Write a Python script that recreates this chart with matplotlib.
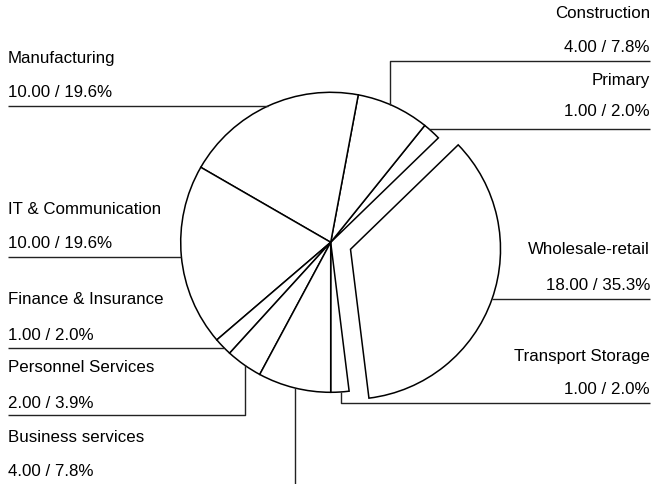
import matplotlib
matplotlib.use("Agg")
import matplotlib.pyplot as plt
import numpy as np

plt.rcParams["font.family"] = ["Liberation Sans", "DejaVu Sans"]

# sectors, counter-clockwise starting at the bottom
SECTORS = [
    "Transport Storage",
    "Wholesale-retail",
    "Primary",
    "Construction",
    "Manufacturing",
    "IT & Communication",
    "Finance & Insurance",
    "Personnel Services",
    "Business services",
]
VALUES = [1, 18, 1, 4, 10, 10, 1, 2, 4]
EXPLODE = [0, 0.14, 0, 0, 0, 0, 0, 0, 0]

W, H = 655, 485
CX, CY, R = 330.7, 243.3, 150.0  # pie centre / radius in pixels


def px(x):
    return (x - CX) / R


def py(y):
    return (CY - y) / R


def label_text(name):
    i = SECTORS.index(name)
    v = VALUES[i]
    pct = 100.0 * v / sum(VALUES)
    return f"{v:.2f} / {pct:.1f}%"


def circle_x(wedge, y, side):
    cx, cy = wedge.center
    r = wedge.r
    return cx + side * np.sqrt(r ** 2 - (y - cy) ** 2)


def circle_y(wedge, x, side):
    cx, cy = wedge.center
    r = wedge.r
    return cy + side * np.sqrt(r ** 2 - (x - cx) ** 2)


def main():
    fig = plt.figure(figsize=(W / 100, H / 100), dpi=100)
    ax = fig.add_axes([0, 0, 1, 1])

    wedges, _ = ax.pie(
        VALUES,
        explode=EXPLODE,
        startangle=-90,
        counterclock=True,
        colors=["white"] * len(VALUES),
        wedgeprops=dict(edgecolor="black", linewidth=1.1),
    )
    ax.set_xlim(px(0), px(W))
    ax.set_ylim(py(H), py(0))
    ax.set_aspect("equal")
    ax.axis("off")

    w = dict(zip(SECTORS, wedges))
    fs = 12.2
    lc = "#222222"
    lw = 1.0
    xl, xr = 8, 650

    # left side labels: (name, text y, value y, line y)
    left = [
        ("Manufacturing", 59, 93, 107),
        ("IT & Communication", 210, 244, 258),
        ("Finance & Insurance", 300, 336, 349),
        ("Personnel Services", 368, 403, 416),
        ("Business services", 437, 471, None),
    ]
    for name, ty, vy, ly in left:
        ax.text(px(xl), py(ty), name, fontsize=fs, ha="left", va="center")
        ax.text(px(xl), py(vy), label_text(name), fontsize=fs,
                ha="left", va="center")

    # right side labels
    right = [
        ("Construction", 14, 48, 62),
        ("Primary", 81, 112, 130),
        ("Wholesale-retail", 250, 285, 300),
        ("Transport Storage", 357, 390, 404),
    ]
    for name, ty, vy, ly in right:
        ax.text(px(xr), py(ty), name, fontsize=fs, ha="right", va="center")
        ax.text(px(xr), py(vy), label_text(name), fontsize=fs,
                ha="right", va="center")

    kw = dict(color=lc, linewidth=lw, solid_capstyle="butt")

    # leader lines straight into the circle
    for name, ly in [("Manufacturing", 107), ("IT & Communication", 258),
                     ("Finance & Insurance", 349)]:
        y = py(ly)
        ax.plot([px(xl), circle_x(w[name], y, -1)], [y, y], **kw)
    for name, ly in [("Primary", 130), ("Wholesale-retail", 300)]:
        y = py(ly)
        ax.plot([circle_x(w[name], y, 1), px(xr)], [y, y], **kw)

    # leader lines with an elbow
    y, x = py(62), px(390)
    ax.plot([px(xr), x, x], [y, y, circle_y(w["Construction"], x, 1)], **kw)
    y, x = py(404), px(341)
    ax.plot([px(xr), x, x], [y, y, circle_y(w["Transport Storage"], x, -1)], **kw)
    y, x = py(416), px(245)
    ax.plot([px(xl), x, x], [y, y, circle_y(w["Personnel Services"], x, -1)], **kw)
    x = px(295)
    ax.plot([x, x], [circle_y(w["Business services"], x, -1), py(H + 5)], **kw)

    fig.savefig("out.png", dpi=100, facecolor="white")


if __name__ == "__main__":
    main()
